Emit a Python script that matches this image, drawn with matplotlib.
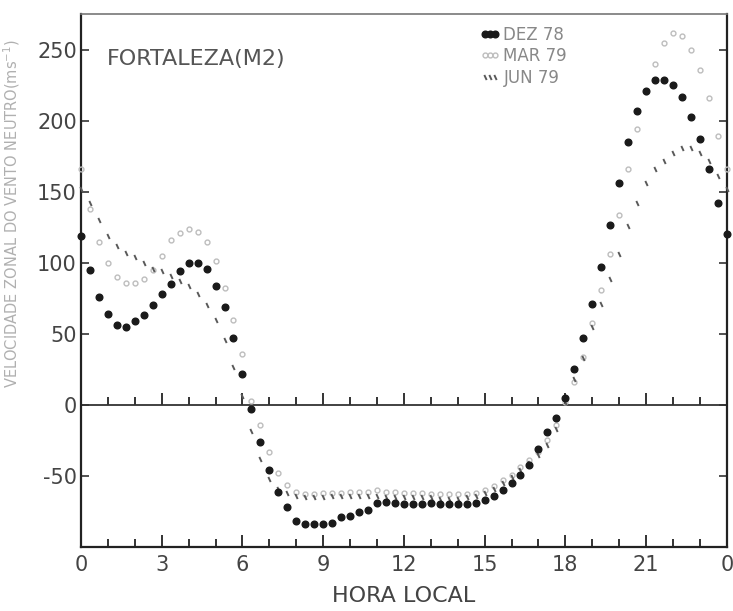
#!/usr/bin/env python3
# -*- coding: utf-8 -*-

import numpy as np
import matplotlib
matplotlib.use("Agg")
import matplotlib.pyplot as plt

plt.rcParams["axes.unicode_minus"] = False
plt.rcParams["font.family"] = ["DejaVu Sans"]

# local time, every 20 min from 0 h to 24 h
hours = np.arange(73) / 3.0

dez_78 = [
    119, 95, 76, 64, 56, 55, 59, 63, 70, 78, 85, 94,
    100, 100, 96, 84, 69, 47, 22, -3, -26, -46, -61, -72,
    -82, -84, -84, -84, -83, -79, -78, -75, -74, -69, -68, -69,
    -70, -70, -70, -69, -70, -70, -70, -70, -69, -67, -64, -60,
    -55, -49, -42, -31, -19, -9, 5, 25, 47, 71, 97, 127,
    156, 185, 207, 221, 229, 229, 225, 217, 203, 187, 166, 142,
    120,
]

mar_79 = [
    166, 138, 115, 100, 90, 86, 86, 89, 95, 105, 116, 121,
    124, 122, 115, 101, 82, 60, 36, 3, -14, -33, -48, -56,
    -61, -63, -63, -62, -62, -62, -61, -61, -61, -60, -61, -61,
    -62, -62, -62, -63, -63, -63, -63, -63, -62, -60, -57, -53,
    -49, -44, -39, -33, -25, -14, 2, 16, 34, 58, 81, 106,
    134, 166, 194, 220, 240, 255, 262, 260, 250, 236, 216, 189,
    166,
]

jun_79 = [
    152, 142, 130, 119, 112, 107, 104, 100, 96, 94, 91, 87,
    84, 78, 70, 60, 46, 27, 6, -18, -38, -52, -59, -62,
    -64, -65, -65, -65, -64, -64, -64, -64, -64, -64, -65, -65,
    -65, -65, -65, -65, -66, -66, -66, -65, -64, -62, -59, -55,
    -51, -46, -41, -35, -28, -17, 2, 18, 33, 55, 71, 89,
    106, 126, 142, 156, 166, 172, 177, 181, 181, 177, 172, 161,
    152,
]

x_ticks = [0, 3, 6, 9, 12, 15, 18, 21, 24]
x_labels = ["0", "3", "6", "9", "12", "15", "18", "21", "0"]
y_ticks = [-50, 0, 50, 100, 150, 200, 250]

fig = plt.figure(figsize=(7.33, 6.11), dpi=100)
ax = fig.add_axes([0.1105, 0.1047, 0.881, 0.872])

ax.plot(hours, mar_79, ls="", marker="o", ms=3.5, mfc="none", mec="#bdbdbd",
        mew=1.0, label="MAR 79", clip_on=False, zorder=3)
ax.plot(hours, jun_79, ls="", marker=(2, 0, 25), ms=4, mec="#5a5a5a",
        mew=1.4, label="JUN 79", clip_on=False, zorder=4)
ax.plot(hours, dez_78, ls="", marker="o", ms=4.8, color="#1a1a1a",
        label="DEZ 78", clip_on=False, zorder=5)

# zero line with hour ticks
ax.axhline(0, color="#333333", lw=1.3, zorder=2)
minor_h = [h for h in range(1, 24) if h % 3 != 0]
major_h = [h for h in range(3, 24, 3)]
ax.plot(minor_h, np.zeros(len(minor_h)), ls="", marker=2, ms=6,
        mew=1.4, color="#333333", zorder=2)
ax.plot(major_h, np.zeros(len(major_h)), ls="", marker=2, ms=9,
        mew=1.4, color="#333333", zorder=2)

ax.set_xlim(0, 24)
ax.set_ylim(-100, 275)
ax.set_xticks(x_ticks)
ax.set_xticklabels(x_labels)
ax.set_xticks(range(0, 25), minor=True)
ax.set_yticks(y_ticks)
ax.tick_params(axis="x", which="major", direction="in", length=9, width=1.4,
               color="#333333", labelsize=15, labelcolor="#444444", pad=6)
ax.tick_params(axis="x", which="minor", direction="in", length=6, width=1.4,
               color="#333333")
ax.tick_params(axis="y", direction="in", length=6, width=1.2, right=True,
               color="#333333", labelsize=15, labelcolor="#444444", pad=3)

for side in ["left", "right", "bottom"]:
    ax.spines[side].set_linewidth(1.6)
    ax.spines[side].set_color("#222222")
ax.spines["top"].set_linewidth(1.2)
ax.spines["top"].set_color("#777777")

ax.set_xlabel("HORA LOCAL", fontsize=16, color="#444444", labelpad=8)
ax.set_ylabel("VELOCIDADE ZONAL DO VENTO NEUTRO(ms$^{-1}$)", fontsize=10.5,
              color="#b0b0b0", labelpad=8)
ax.yaxis.set_label_coords(-0.092, 0.625)

ax.text(0.04, 0.905, "FORTALEZA(M2)", transform=ax.transAxes, fontsize=16,
        color="#555555")

handles, labels = ax.get_legend_handles_labels()
order = [2, 0, 1]
ax.legend([handles[i] for i in order], [labels[i] for i in order],
          loc="upper left", bbox_to_anchor=(0.6, 1.0), frameon=False,
          numpoints=3, handlelength=1.2, handletextpad=0.2, labelspacing=0.2,
          fontsize=12, labelcolor="#888888", borderaxespad=0.3)

fig.savefig("out.png", dpi=100)
